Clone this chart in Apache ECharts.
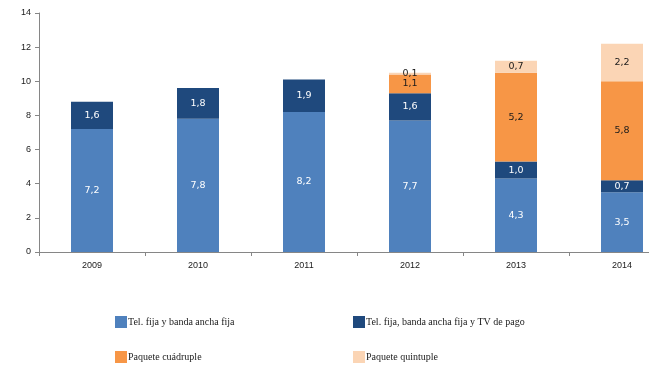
<!DOCTYPE html>
<html><head><meta charset="utf-8">
<script src="https://cdn.jsdelivr.net/npm/echarts@6/dist/echarts.min.js"></script>
<style>html,body{margin:0;padding:0;background:#fff;overflow:hidden;width:649px;height:371px}#c{width:675px;height:371px}</style>
</head><body><div id="c"></div>
<script>
var categories = ['2009','2010','2011','2012','2013','2014'];
var telFijaBanda = [7.2, 7.8, 8.2, 7.7, 4.3, 3.5];
var telFijaBandaTV = [1.6, 1.8, 1.9, 1.6, 1.0, 0.7];
var paqueteCuadruple = [null, null, null, 1.1, 5.2, 5.8];
var paqueteQuintuple = [null, null, null, 0.1, 0.7, 2.2];
var seriesNames = ['Tel. fija y banda ancha fija','Tel. fija, banda ancha fija y TV de pago','Paquete cuádruple','Paquete quintuple'];
var yTicks = [0,2,4,6,8,10,12,14];

var colors = ['#4F81BD','#1F497D','#F79646','#FBD5B5'];
var labelColors = ['#ffffff','#ffffff','#1a1a1a','#1a1a1a'];
var dataSets = [telFijaBanda, telFijaBandaTV, paqueteCuadruple, paqueteQuintuple];

function fmt(p){ return p.value == null ? '' : p.value.toFixed(1).replace('.', ','); }

var series = dataSets.map(function(d, i){
  return {
    name: seriesNames[i], type: 'bar', stack: 'total', data: d,
    barWidth: 42,
    itemStyle: {color: colors[i]},
    label: {show: true, position: 'inside', formatter: fmt, color: labelColors[i],
            fontFamily: 'DejaVu Sans', fontSize: 9.5},
    emphasis: {disabled: true}
  };
});

var legendText = {fontFamily: 'Liberation Serif', fontSize: 10, color: '#1a1a1a', padding: [-4,0,0,-4]};
var chart = echarts.init(document.getElementById('c'), null, {renderer: 'canvas'});
chart.setOption({
  animation: false,
  color: colors,
  grid: {left: 39, right: 0, top: 13, bottom: 119, containLabel: false},
  xAxis: {
    type: 'category', data: categories,
    axisLine: {lineStyle: {color: '#868686'}},
    axisTick: {show: true, inside: false, length: 4, lineStyle: {color: '#868686'}},
    axisLabel: {fontFamily: 'Liberation Sans', fontSize: 9, color: '#1a1a1a', margin: 9}
  },
  yAxis: {
    type: 'value', min: yTicks[0], max: yTicks[yTicks.length-1], interval: 2,
    axisLine: {show: true, lineStyle: {color: '#868686'}},
    axisTick: {show: true, length: 4, lineStyle: {color: '#868686'}},
    splitLine: {show: false},
    axisLabel: {fontFamily: 'Liberation Sans', fontSize: 9, color: '#1a1a1a', margin: 8}
  },
  legend: [
    {data: [seriesNames[0], seriesNames[2]], orient: 'vertical', left: 110, top: 311,
     itemWidth: 12, itemHeight: 12, itemGap: 23, icon: 'rect', textStyle: legendText},
    {data: [seriesNames[1], seriesNames[3]], orient: 'vertical', left: 348, top: 311,
     itemWidth: 12, itemHeight: 12, itemGap: 23, icon: 'rect', textStyle: legendText}
  ],
  series: series
});
</script></body></html>
